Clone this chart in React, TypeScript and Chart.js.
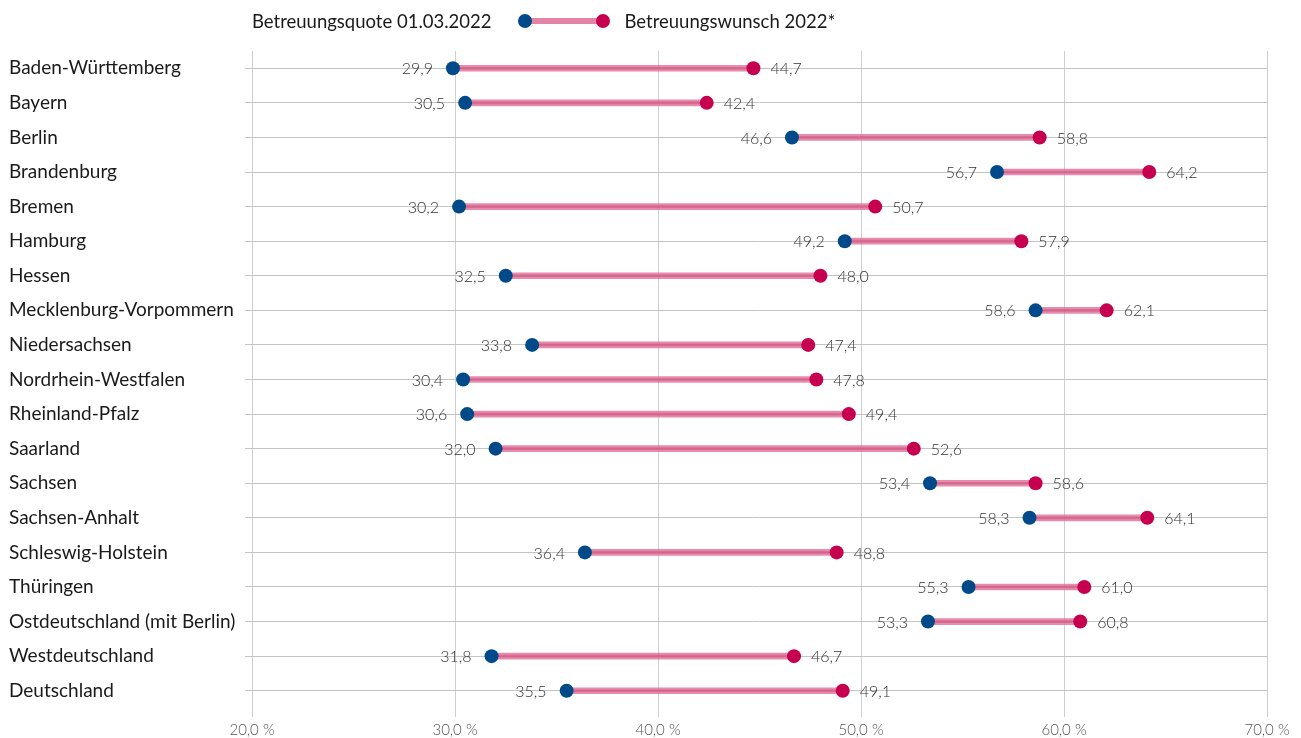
import React, { useEffect, useRef } from "react";
import { Chart, registerables } from "chart.js";

Chart.register(...registerables);

const categories = [
  "Baden-Württemberg",
  "Bayern",
  "Berlin",
  "Brandenburg",
  "Bremen",
  "Hamburg",
  "Hessen",
  "Mecklenburg-Vorpommern",
  "Niedersachsen",
  "Nordrhein-Westfalen",
  "Rheinland-Pfalz",
  "Saarland",
  "Sachsen",
  "Sachsen-Anhalt",
  "Schleswig-Holstein",
  "Thüringen",
  "Ostdeutschland (mit Berlin)",
  "Westdeutschland",
  "Deutschland",
];

const quote2022 = [29.9, 30.5, 46.6, 56.7, 30.2, 49.2, 32.5, 58.6, 33.8, 30.4, 30.6, 32.0, 53.4, 58.3, 36.4, 55.3, 53.3, 31.8, 35.5];
const wunsch2022 = [44.7, 42.4, 58.8, 64.2, 50.7, 57.9, 48.0, 62.1, 47.4, 47.8, 49.4, 52.6, 58.6, 64.1, 48.8, 61.0, 60.8, 46.7, 49.1];

const seriesNames = ["Betreuungsquote 01.03.2022", "Betreuungswunsch 2022*"];
const xTicks = [20, 30, 40, 50, 60, 70];

const BLUE = "#004a8a";
const RED = "#c6004f";
const FONT = "Lato, 'Noto Sans', sans-serif";

const fmt = (v: number) => v.toFixed(1).replace(".", ",");

const valueLabels = {
  id: "valueLabels",
  afterDatasetsDraw(chart: any) {
    const ctx = chart.ctx;
    const xs = chart.scales.x;
    const ys = chart.scales.y;
    ctx.save();
    ctx.font = `300 16px ${FONT}`;
    ctx.fillStyle = "#333";
    ctx.textBaseline = "middle";
    categories.forEach((_, i) => {
      const y = ys.getPixelForValue(i) + 1;
      const a = quote2022[i];
      const b = wunsch2022[i];
      ctx.textAlign = "right";
      ctx.fillText(fmt(a), xs.getPixelForValue(a) - 20, y);
      ctx.textAlign = "left";
      ctx.fillText(fmt(b), xs.getPixelForValue(b) + 17, y);
    });
    ctx.restore();
  },
};

export default function App() {
  const ref = useRef<HTMLCanvasElement>(null);
  useEffect(() => {
    if (!ref.current) return;
    const ranges = categories.map((_, i) => [quote2022[i], wunsch2022[i]]);
    const chart = new Chart(ref.current, {
      type: "bar",
      data: {
        labels: categories,
        datasets: [
          {
            type: "bar",
            data: ranges as any,
            backgroundColor: "rgba(222,110,150,0.8)",
            barThickness: 6,
            grouped: false,
            order: 3,
          } as any,
          {
            type: "bar",
            data: ranges as any,
            backgroundColor: "rgba(205,70,120,0.45)",
            barThickness: 2,
            grouped: false,
            order: 2,
          } as any,
          {
            type: "line",
            label: seriesNames[0],
            data: quote2022,
            showLine: false,
            pointRadius: 7,
            pointHoverRadius: 7,
            pointBorderWidth: 0,
            pointBackgroundColor: BLUE,
            backgroundColor: BLUE,
            order: 1,
          } as any,
          {
            type: "line",
            label: seriesNames[1],
            data: wunsch2022,
            showLine: false,
            pointRadius: 7,
            pointHoverRadius: 7,
            pointBorderWidth: 0,
            pointBackgroundColor: RED,
            backgroundColor: RED,
            order: 0,
          } as any,
        ],
      },
      options: {
        indexAxis: "y",
        animation: false,
        responsive: false,
        maintainAspectRatio: false,
        layout: { padding: { left: 9, top: 51, right: 34, bottom: 0 } },
        plugins: {
          legend: { display: false },
          tooltip: { enabled: false },
        },
        scales: {
          x: {
            type: "linear",
            min: 20,
            max: 70,
            afterBuildTicks: (s: any) => {
              s.ticks = xTicks.map((v) => ({ value: v }));
            },
            afterFit: (s: any) => {
              s.height = 30;
            },
            ticks: {
              font: { family: FONT, size: 15, weight: 300 as any },
              color: "#555",
              padding: 4,
              callback: (v: any) => fmt(Number(v)) + " %",
            },
            grid: { color: "#cfcfcf", tickLength: 9, lineWidth: 1 },
            border: { display: false },
          },
          y: {
            type: "category",
            offset: true,
            afterFit: (s: any) => {
              s.width = 243;
            },
            ticks: {
              crossAlign: "far",
              font: { family: FONT, size: 19 },
              color: "#1a1a1a",
            },
            grid: { color: "#c4c4c4", tickLength: 7, offset: false },
            border: { display: false },
          },
        },
      },
      plugins: [valueLabels],
    } as any);
    return () => chart.destroy();
  }, []);

  return (
    <div style={{ position: "absolute", left: 0, top: 0, width: 1301, height: 738, background: "#fff" }}>
      <canvas ref={ref} width={1301} height={738} style={{ position: "absolute", left: 0, top: 0 }} />
      <div
        style={{
          position: "absolute",
          left: 252,
          top: 8,
          height: 26,
          display: "flex",
          alignItems: "center",
          fontFamily: FONT,
          fontSize: 18.5,
          color: "#1a1a1a",
          whiteSpace: "nowrap",
        }}
      >
        <span>{seriesNames[0]}</span>
        <span style={{ position: "relative", width: 92, height: 14, marginLeft: 26, marginRight: 15, display: "inline-block" }}>
          <span style={{ position: "absolute", left: 7, right: 7, top: 4, height: 6, background: "rgba(222,110,150,0.85)" }} />
          <span style={{ position: "absolute", left: 0, top: 0, width: 14, height: 14, borderRadius: 7, background: BLUE }} />
          <span style={{ position: "absolute", right: 0, top: 0, width: 14, height: 14, borderRadius: 7, background: RED }} />
        </span>
        <span>{seriesNames[1]}</span>
      </div>
    </div>
  );
}
